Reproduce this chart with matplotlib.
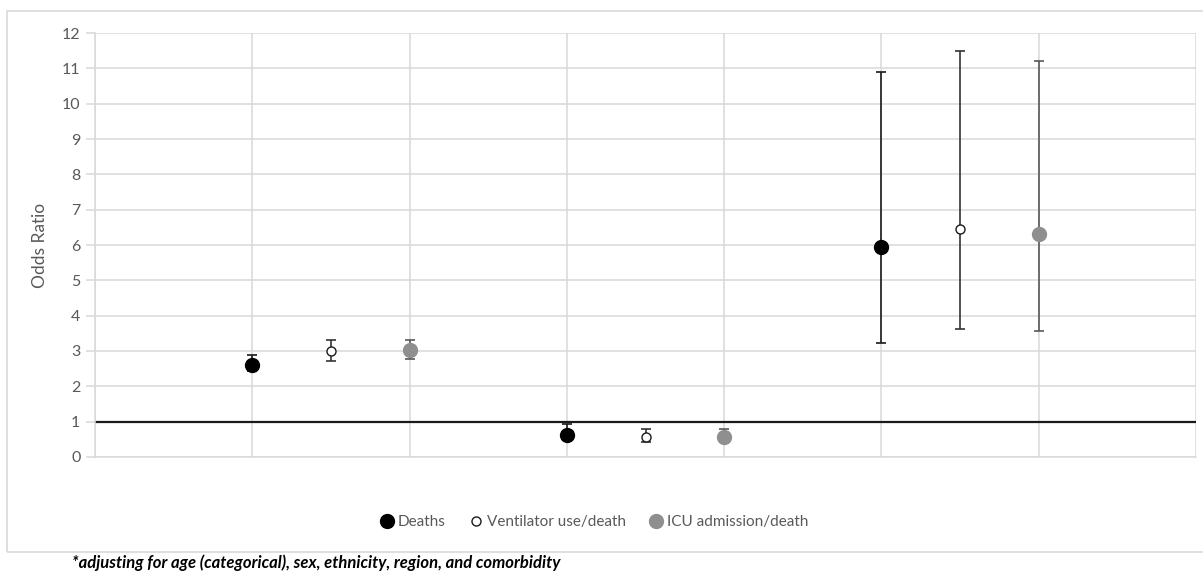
import numpy as np
import matplotlib.pyplot as plt
from matplotlib.patches import Rectangle

plt.rcParams['font.family'] = ['Lato', 'DejaVu Sans']

# odds ratios with 95% CI, three comparison groups
deaths_or = [2.60, 0.63, 5.93]
deaths_lo = [2.42, 0.47, 3.22]
deaths_hi = [2.88, 0.92, 10.90]

vent_or = [3.00, 0.58, 6.45]
vent_lo = [2.72, 0.43, 3.62]
vent_hi = [3.31, 0.80, 11.48]

icu_or = [3.02, 0.58, 6.32]
icu_lo = [2.77, 0.42, 3.58]
icu_hi = [3.32, 0.80, 11.22]

yticks = list(range(0, 13))

W, H = 1203, 575
fig = plt.figure(figsize=(W / 100, H / 100), dpi=100)
fig.patch.set_facecolor('white')

# outer chart frame
fig.patches.append(Rectangle((7 / W, 1 - 552 / H), 1.2, (552 - 11) / H,
                             transform=fig.transFigure, fill=False,
                             edgecolor='#d9d9d9', lw=1.2))

ax = fig.add_axes([95 / W, 1 - 457 / H, 1101 / W, 424 / H])

grp = np.arange(3)
series = [
    ('Deaths', deaths_or, deaths_lo, deaths_hi, 0.0, dict(marker='o', ms=10, mfc='black', mec='black'), '#1a1a1a'),
    ('Ventilator use/death', vent_or, vent_lo, vent_hi, 0.5, dict(marker='o', ms=6.5, mfc='white', mec='#1a1a1a', mew=1.0), '#333333'),
    ('ICU admission/death', icu_or, icu_lo, icu_hi, 1.0, dict(marker='o', ms=10, mfc='#8f8f8f', mec='#8f8f8f'), '#595959'),
]

handles = []
for name, v, lo, hi, off, mk, ecol in series:
    v = np.array(v); lo = np.array(lo); hi = np.array(hi)
    x = 1 + 2 * grp + off
    ax.errorbar(x, v, yerr=[v - lo, hi - v], fmt='none', ecolor=ecol,
                elinewidth=1.2, capsize=3.8, capthick=1.2, zorder=3)
    h, = ax.plot(x, v, ls='none', zorder=4, label=name, **mk)
    handles.append(h)

ax.axhline(1, color='#1a1a1a', lw=1.6, zorder=2)

ax.set_xlim(0, 7)
ax.set_ylim(0, 12)
ax.set_yticks(yticks)
ax.set_xticks(np.arange(0, 8))
ax.set_xticklabels([])
ax.grid(True, color='#d9d9d9', lw=1.1, zorder=0)
ax.set_axisbelow(True)
for s in ['top', 'right']:
    ax.spines[s].set_visible(False)
for s in ['left', 'bottom']:
    ax.spines[s].set_color('#d9d9d9')
    ax.spines[s].set_linewidth(1.1)
ax.tick_params(axis='y', length=6.5, color='#d9d9d9', width=1.1,
               labelcolor='#595959', labelsize=11.5, pad=4)
ax.tick_params(axis='x', length=0)
ax.set_ylabel('Odds Ratio', color='#595959', fontsize=12.5, labelpad=10)

fig.legend(handles=handles, loc='center', bbox_to_anchor=(593 / W, 1 - 522 / H),
           ncol=3, frameon=False, fontsize=11, labelcolor='#595959',
           handletextpad=0.1, columnspacing=1.4, handlelength=1.2, markerscale=1.0)

fig.text(72 / W, 1 - 563 / H,
         '*adjusting for age (categorical), sex, ethnicity, region, and comorbidity',
         fontsize=12, fontweight='bold', fontstyle='italic', color='black',
         va='center', ha='left')

fig.savefig('out.png', dpi=100)
